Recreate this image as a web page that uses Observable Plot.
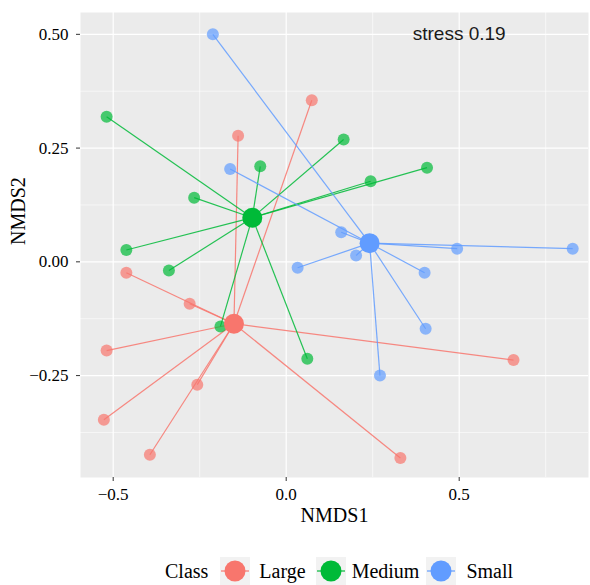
<!DOCTYPE html>
<html><head><meta charset="utf-8">
<script src="https://cdn.jsdelivr.net/npm/d3@7"></script>
<script src="https://cdn.jsdelivr.net/npm/@observablehq/plot@0.6"></script>
<style>
body{margin:0;background:#fff;font-family:'Liberation Serif',serif;}
#chart{width:590px;}
#chart svg text{font-family:'Liberation Serif',serif;}
#chart svg .sans text{font-family:'Liberation Sans',sans-serif;}
#legend{display:flex;align-items:center;height:45px;box-sizing:border-box;padding-top:17px;padding-left:165px;font-family:'Liberation Serif',serif;font-size:20px;color:#000;line-height:1;}
#legend .key{display:block;}
</style></head><body><div id="chart"></div><div id="legend"></div><script>
const classes = ["Large", "Medium", "Small"];
const classColors = ["#F8766D", "#00BA38", "#619CFF"];

const largeX  = [0.074, -0.139, -0.462, -0.279, -0.519, -0.257, -0.527, -0.394, 0.657, 0.330];
const largeY  = [0.355, 0.277, -0.024, -0.092, -0.195, -0.270, -0.347, -0.424, -0.216, -0.431];
const mediumX = [-0.519, 0.166, -0.075, 0.407, 0.244, -0.266, -0.462, -0.339, -0.190, 0.061];
const mediumY = [0.319, 0.269, 0.210, 0.207, 0.177, 0.141, 0.026, -0.019, -0.142, -0.213];
const smallX  = [-0.212, -0.162, 0.159, 0.202, 0.033, 0.494, 0.828, 0.400, 0.403, 0.271];
const smallY  = [0.500, 0.204, 0.065, 0.014, -0.013, 0.029, 0.029, -0.024, -0.147, -0.250];

const centroidX = [-0.151, -0.098, 0.241];
const centroidY = [-0.136, 0.097, 0.041];

const xTicks = [-0.5, 0.0, 0.5];
const yTicks = [-0.25, 0.00, 0.25, 0.50];
const xMinor = [-0.25, 0.25, 0.75];
const yMinor = [-0.375, -0.125, 0.125, 0.375];
const stressLabel = "stress 0.19";

const seriesX = [largeX, mediumX, smallX];
const seriesY = [largeY, mediumY, smallY];
const samples = [];
classes.forEach((c, i) => {
  seriesX[i].forEach((x, j) => {
    samples.push({cls: c, x, y: seriesY[i][j], cx: centroidX[i], cy: centroidY[i]});
  });
});
const centroids = classes.map((c, i) => ({cls: c, x: centroidX[i], y: centroidY[i]}));

const serif = "'Liberation Serif', serif";

const chart = Plot.plot({
  width: 590,
  height: 540,
  marginLeft: 80,
  marginRight: 2,
  marginTop: 12,
  marginBottom: 63,
  style: {fontFamily: serif, fontSize: "17px", background: "#fff", color: "#000"},
  x: {domain: [-0.5945, 0.8737]},
  y: {domain: [-0.474, 0.548]},
  color: {domain: classes, range: classColors},
  marks: [
    Plot.frame({fill: "#EBEBEB", stroke: null}),
    Plot.ruleX(xMinor, {stroke: "#fff", strokeWidth: 0.6}),
    Plot.ruleY(yMinor, {stroke: "#fff", strokeWidth: 0.6}),
    Plot.ruleX(xTicks, {stroke: "#fff", strokeWidth: 1.2}),
    Plot.ruleY(yTicks, {stroke: "#fff", strokeWidth: 1.2}),
    Plot.axisX(xTicks, {tickSize: 4, tickPadding: 6, tickFormat: d3.format(".1f"), fontSize: 17, fontFamily: serif, stroke: "#333", fill: "#000", label: null}),
    Plot.axisY(yTicks, {tickSize: 4, tickPadding: 8, tickFormat: d3.format(".2f"), fontSize: 17, fontFamily: serif, stroke: "#333", fill: "#000", label: null}),
    Plot.link(samples, {x1: "cx", y1: "cy", x2: "x", y2: "y", stroke: "cls", strokeWidth: 1.2, strokeOpacity: 0.85}),
    Plot.dot(samples, {x: "x", y: "y", r: 6, fill: "cls", fillOpacity: 0.7, stroke: null}),
    Plot.dot(centroids, {x: "x", y: "y", r: 10, fill: "cls", stroke: null}),
    Plot.text([stressLabel], {x: 0.5, y: 0.5, text: d => d, fontFamily: "'Liberation Sans', sans-serif", fontSize: 19, fill: "#1a1a1a", className: "sans"}),
    Plot.text(["NMDS1"], {frameAnchor: "bottom", dy: 44, text: d => d, fontSize: 20, fontFamily: serif, fill: "#000"}),
    Plot.text(["NMDS2"], {frameAnchor: "left", dx: -62, rotate: -90, text: d => d, fontSize: 20, fontFamily: serif, fill: "#000"})
  ]
});
document.getElementById("chart").appendChild(chart);

// legend
const legend = document.getElementById("legend");
const title = document.createElement("span");
title.textContent = "Class";
legend.appendChild(title);
const ns = "http://www.w3.org/2000/svg";
const gaps = [[12, 9], [10, 6], [7, 10]];
classes.forEach((c, i) => {
  const svg = document.createElementNS(ns, "svg");
  svg.setAttribute("width", 30);
  svg.setAttribute("height", 28);
  svg.setAttribute("class", "key");
  svg.style.marginLeft = gaps[i][0] + "px";
  svg.innerHTML = `<rect width="30" height="28" fill="#F2F2F2"/>` +
    `<line x1="1" x2="29" y1="14" y2="14" stroke="${classColors[i]}" stroke-width="1.2"/>` +
    `<circle cx="15" cy="14" r="10.5" fill="${classColors[i]}"/>`;
  legend.appendChild(svg);
  const lab = document.createElement("span");
  lab.textContent = c;
  lab.style.marginLeft = gaps[i][1] + "px";
  legend.appendChild(lab);
});
</script></body></html>
